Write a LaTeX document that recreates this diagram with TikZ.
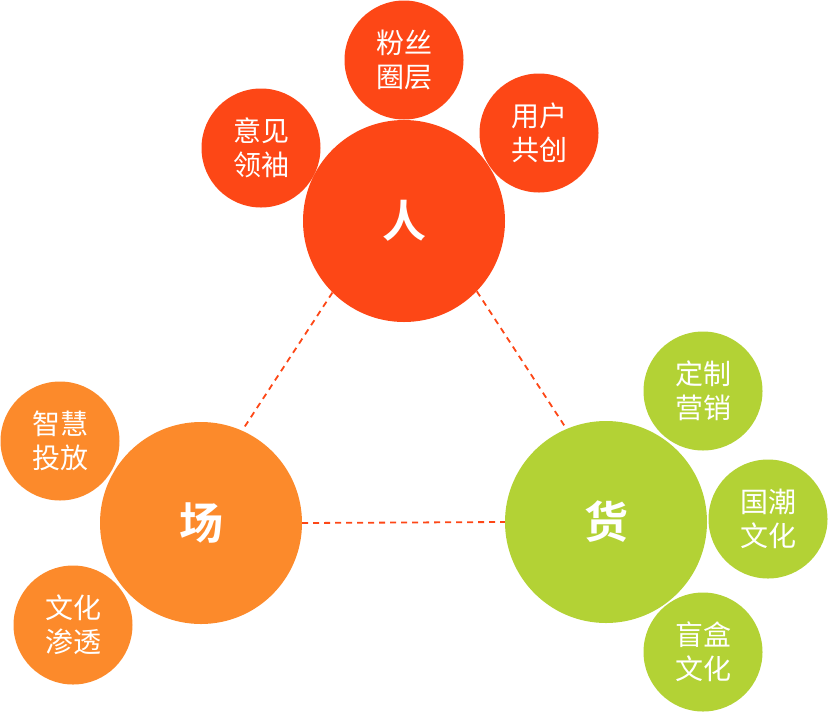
\documentclass[tikz,border=0pt]{standalone}
\usepackage{fontspec}
\newfontfamily\cjk{Noto Sans CJK SC}
\newfontfamily\cjkb{Noto Sans CJK SC Bold}
\definecolor{cred}{HTML}{FD4716}
\definecolor{corange}{HTML}{FC8A2B}
\definecolor{cgreen}{HTML}{B3D235}
\begin{document}
\begin{tikzpicture}[x=1pt,y=-1pt,
  big/.style={circle,minimum size=202pt,inner sep=0pt,text=white,font=\cjkb\fontsize{44}{48}\selectfont},
  small/.style={circle,minimum size=119pt,inner sep=0pt,text=white,align=center,font=\cjk\fontsize{28}{34}\selectfont},
  link/.style={draw=cred,line width=1.8pt,dash pattern=on 6pt off 5pt}]
\useasboundingbox (0,0) rectangle (829,713);
\node[big,fill=cred] (ren) at (404,221) {人};
\node[big,fill=corange] (chang) at (201,523) {场};
\node[big,fill=cgreen] (huo) at (606,522) {货};
\node[small,fill=cred] (fensi) at (404,60) {粉丝\\圈层};
\node[small,fill=cred] (yijian) at (261,148) {意见\\领袖};
\node[small,fill=cred] (yonghu) at (539,133) {用户\\共创};
\node[small,fill=cgreen] (dingzhi) at (703,391) {定制\\营销};
\node[small,fill=cgreen] (guochao) at (768,519) {国潮\\文化};
\node[small,fill=cgreen] (manghe) at (703,652) {盲盒\\文化};
\node[small,fill=corange] (zhihui) at (60,441) {智慧\\投放};
\node[small,fill=corange] (wenhua) at (73,625) {文化\\渗透};
\draw[link] (ren.225) -- (chang.66);
\draw[link] (ren.316) -- (huo.113);
\draw[link] (chang.east) -- (huo.west);
\end{tikzpicture}
\end{document}
